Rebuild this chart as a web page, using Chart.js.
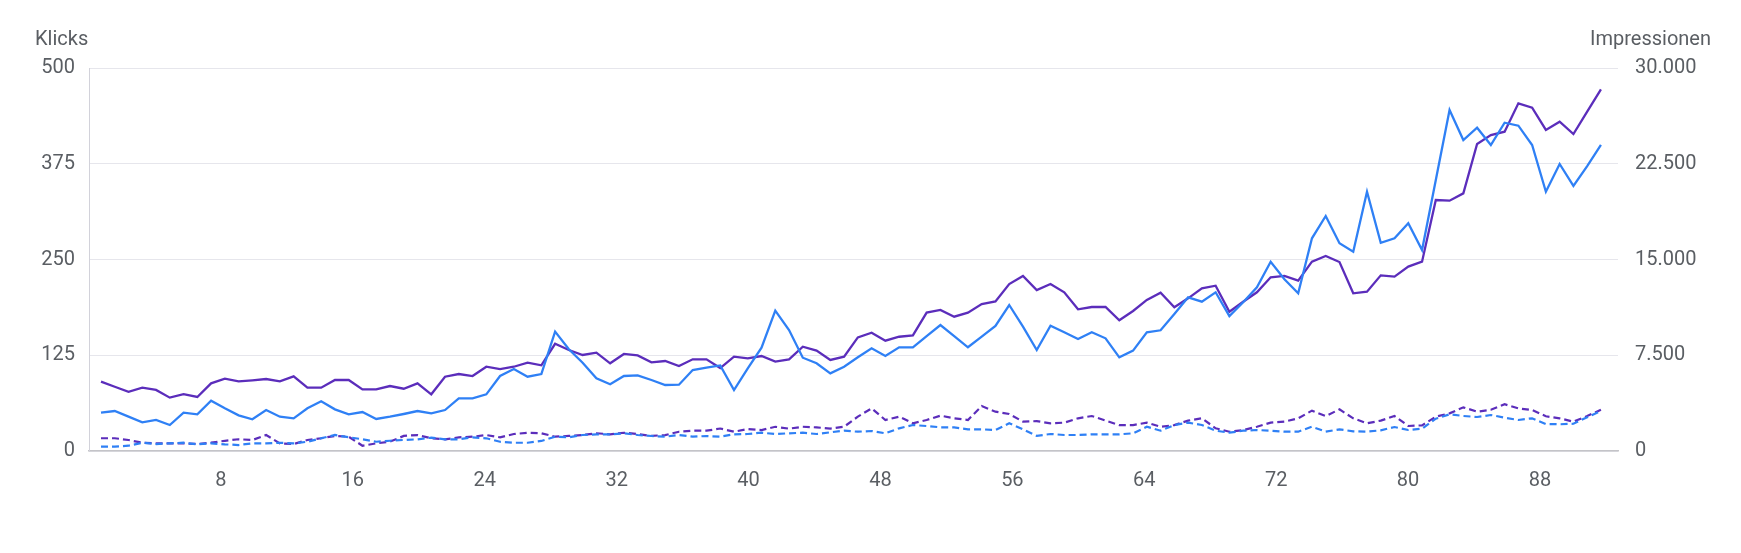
<!DOCTYPE html>
<html>
<head>
<meta charset="utf-8">
<script src="https://cdn.jsdelivr.net/npm/chart.js@4.4.1/dist/chart.umd.min.js"></script>
<style>
  html, body { margin: 0; padding: 0; background: #ffffff; }
  #wrap { width: 1741px; height: 553px; position: relative; }
</style>
</head>
<body>
<div id="wrap"><canvas id="c" width="1741" height="553"></canvas></div>
<script>
// ---- Data ----
// Klicks (left axis), current period - blue solid
const klicks = [50,52.2,44.8,37.4,40.5,33.9,50,47.9,65.7,55.7,46.6,41.4,53.5,44.8,42.6,55.7,64.9,54.4,47.9,50.9,
  41.8,44.8,48.3,52.2,49.2,53.5,68.8,68.8,74,97.9,107,97,100.5,155.8,132.8,115.3,94.9,87.1,97.9,98.8,
  92.7,86.2,86.6,105.7,108.7,111.7,79.6,108,134.9,183.2,158,121.8,114.5,101.4,110,122.3,134,124,135.4,135.4,
  150.1,164.5,150.1,135.4,149.2,163.2,190.6,162.3,131.9,163.6,155,146.2,155,147.1,122.3,131,155,157.6,178.9,200.6,
  194.9,207.2,176.2,194.1,213.7,247.1,224.2,205.9,277.7,306.8,271.2,260.2,338.5,271.9,277.7,297.3,262.4,353.8,445.2,406,
  422.1,399.5,428.6,424.7,399.5,338.5,374.7,346,372,399.5];
// Impressionen (right axis), current period - purple solid
const impressionen = [5430,5030,4640,4960,4780,4180,4460,4230,5300,5660,5460,5540,5640,5460,5850,4960,4960,5560,5560,4830,
  4830,5090,4880,5300,4440,5820,6030,5870,6600,6420,6600,6920,6710,8400,7910,7520,7700,6870,7600,7490,
  6950,7050,6660,7180,7180,6500,7390,7260,7440,7000,7180,8170,7860,7130,7390,8900,9260,8640,8950,9060,
  10840,11050,10520,10840,11510,11720,13080,13710,12610,13080,12430,11100,11280,11280,10240,10970,11830,12400,11260,11960,
  12740,12950,10910,11690,12430,13610,13710,13340,14830,15280,14800,12350,12480,13760,13660,14440,14830,19660,19610,20180,
  24050,24750,25010,27230,26890,25150,25790,24830,26580,28330];
// Klicks, previous period - blue dashed
const klicksPrev = [5.6,5.6,6.9,10.8,9.1,10,10.8,8.7,10,8.7,7.8,10,10,10.8,10,12.1,16.6,20.9,17.9,15.3,
  12.1,13.4,14.4,15.2,17.4,15.2,15.2,17.9,16.6,12.1,10.8,10.8,13.1,18.7,17.9,20.9,21.8,21.8,23.1,20.9,
  19.6,18.7,20.9,18.7,19.6,18.7,21.8,22.2,23.9,22.2,23.1,23.9,22.2,24.4,26.5,25.2,26.1,23.1,29.6,33.9,
  32.6,30.9,30.9,28.3,28.3,27.4,36.2,28.3,19.8,22.2,20.9,20.9,21.8,21.8,21.8,23.1,31.7,26.5,33.9,37,
  33.9,26.5,23.9,26.5,27.4,26.5,25.2,25.2,31.7,25.2,28.3,25.7,25.2,27,31.3,27.4,29.1,42.2,47.9,45.7,
  44.4,47,43.5,40.5,42.7,35.2,34.9,35.6,44,52.2];
// Impressionen, previous period - purple dashed
const impressionenPrev = [1000,1000,860,650,600,600,600,550,650,800,920,860,1250,600,550,860,1000,1180,1120,410,
  600,730,1180,1250,1000,910,1070,1120,1250,1070,1330,1430,1390,1120,1180,1250,1390,1310,1430,1330,
  1180,1250,1510,1590,1590,1760,1510,1720,1640,1900,1750,1900,1850,1750,1900,2690,3340,2430,2690,2170,
  2430,2770,2560,2430,3520,3080,2900,2300,2340,2170,2220,2560,2740,2380,2030,2030,2220,1900,2030,2380,
  2560,1780,1510,1640,1900,2220,2300,2560,3160,2740,3260,2560,2170,2380,2740,1960,2010,2690,2950,3420,
  3080,3230,3660,3340,3210,2720,2560,2300,2740,3230];

const xTickValues = [8,16,24,32,40,48,56,64,72,80,88];
const leftTicks = [0,125,250,375,500];
const rightTicks = [0,7500,15000,22500,30000];

const BLUE = '#2f80f5';
const PURPLE = '#5b2dbb';
const TEXT = '#5a5e63';
const FONT = 'Roboto';
const FSIZE = 20;

function toPoints(arr) { return arr.map((v, i) => ({ x: i, y: v })); }
function deNum(v) { return Math.round(v).toString().replace(/\B(?=(\d{3})+(?!\d))/g, '.'); }

const titlePlugin = {
  id: 'axisTitles',
  afterDraw(chart) {
    const ctx = chart.ctx;
    ctx.save();
    ctx.fillStyle = TEXT;
    ctx.font = '20px ' + FONT;
    ctx.textBaseline = 'middle';
    ctx.textAlign = 'left';
    ctx.fillText('Klicks', 35, 40);
    ctx.textAlign = 'right';
    ctx.fillText('Impressionen', 1711, 40);
    ctx.restore();
  }
};

new Chart(document.getElementById('c'), {
  type: 'line',
  data: {
    datasets: [
      { label: 'Klicks', data: toPoints(klicks), yAxisID: 'y', xAxisID: 'x',
        borderColor: BLUE, borderWidth: 2.3, pointRadius: 0, fill: false, tension: 0, order: 1 },
      { label: 'Impressionen', data: toPoints(impressionen), yAxisID: 'y1', xAxisID: 'x',
        borderColor: PURPLE, borderWidth: 2.3, pointRadius: 0, fill: false, tension: 0, order: 2 },
      { label: 'Klicks (Vorperiode)', data: toPoints(klicksPrev), yAxisID: 'y', xAxisID: 'x',
        borderColor: BLUE, borderWidth: 2.2, borderDash: [7, 4], pointRadius: 0, fill: false, tension: 0, order: 3 },
      { label: 'Impressionen (Vorperiode)', data: toPoints(impressionenPrev), yAxisID: 'y1', xAxisID: 'x',
        borderColor: PURPLE, borderWidth: 2.2, borderDash: [7, 4], pointRadius: 0, fill: false, tension: 0, order: 4 }
    ]
  },
  options: {
    responsive: false,
    animation: false,
    devicePixelRatio: 1,
    layout: { padding: { top: 68, left: 0, right: 0, bottom: 0 } },
    plugins: { legend: { display: false }, tooltip: { enabled: false } },
    scales: {
      x: {
        type: 'linear', display: false,
        min: -0.872, max: 110.24
      },
      xt: {
        type: 'linear', position: 'bottom', axis: 'x',
        min: 0, max: 92.73,
        grid: { display: false, drawTicks: false },
        border: { display: true, color: '#c4c4c8', width: 1.5 },
        afterBuildTicks(scale) { scale.ticks = xTickValues.map(v => ({ value: v })); },
        afterFit(scale) { scale.height = 102; },
        ticks: {
          color: TEXT, font: { family: FONT, size: FSIZE }, padding: 18,
          maxRotation: 0, autoSkip: false,
          callback: (v) => String(v)
        }
      },
      y: {
        type: 'linear', position: 'left',
        min: 0, max: 500,
        afterBuildTicks(scale) { scale.ticks = leftTicks.map(v => ({ value: v })); },
        afterFit(scale) { scale.width = 89; },
        grid: { color: '#e6e6ec', lineWidth: 1, drawTicks: false },
        border: { display: true, color: '#d2d2da', width: 1 },
        ticks: { color: TEXT, font: { family: FONT, size: FSIZE }, padding: 14, callback: (v) => deNum(v) }
      },
      y1: {
        type: 'linear', position: 'right',
        min: 0, max: 30000,
        afterBuildTicks(scale) { scale.ticks = rightTicks.map(v => ({ value: v })); },
        afterFit(scale) { scale.width = 123; },
        grid: { display: false, drawTicks: false },
        border: { display: false },
        ticks: { color: TEXT, font: { family: FONT, size: FSIZE }, padding: 17, callback: (v) => deNum(v) }
      }
    }
  },
  plugins: [titlePlugin]
});
</script>
</body>
</html>
